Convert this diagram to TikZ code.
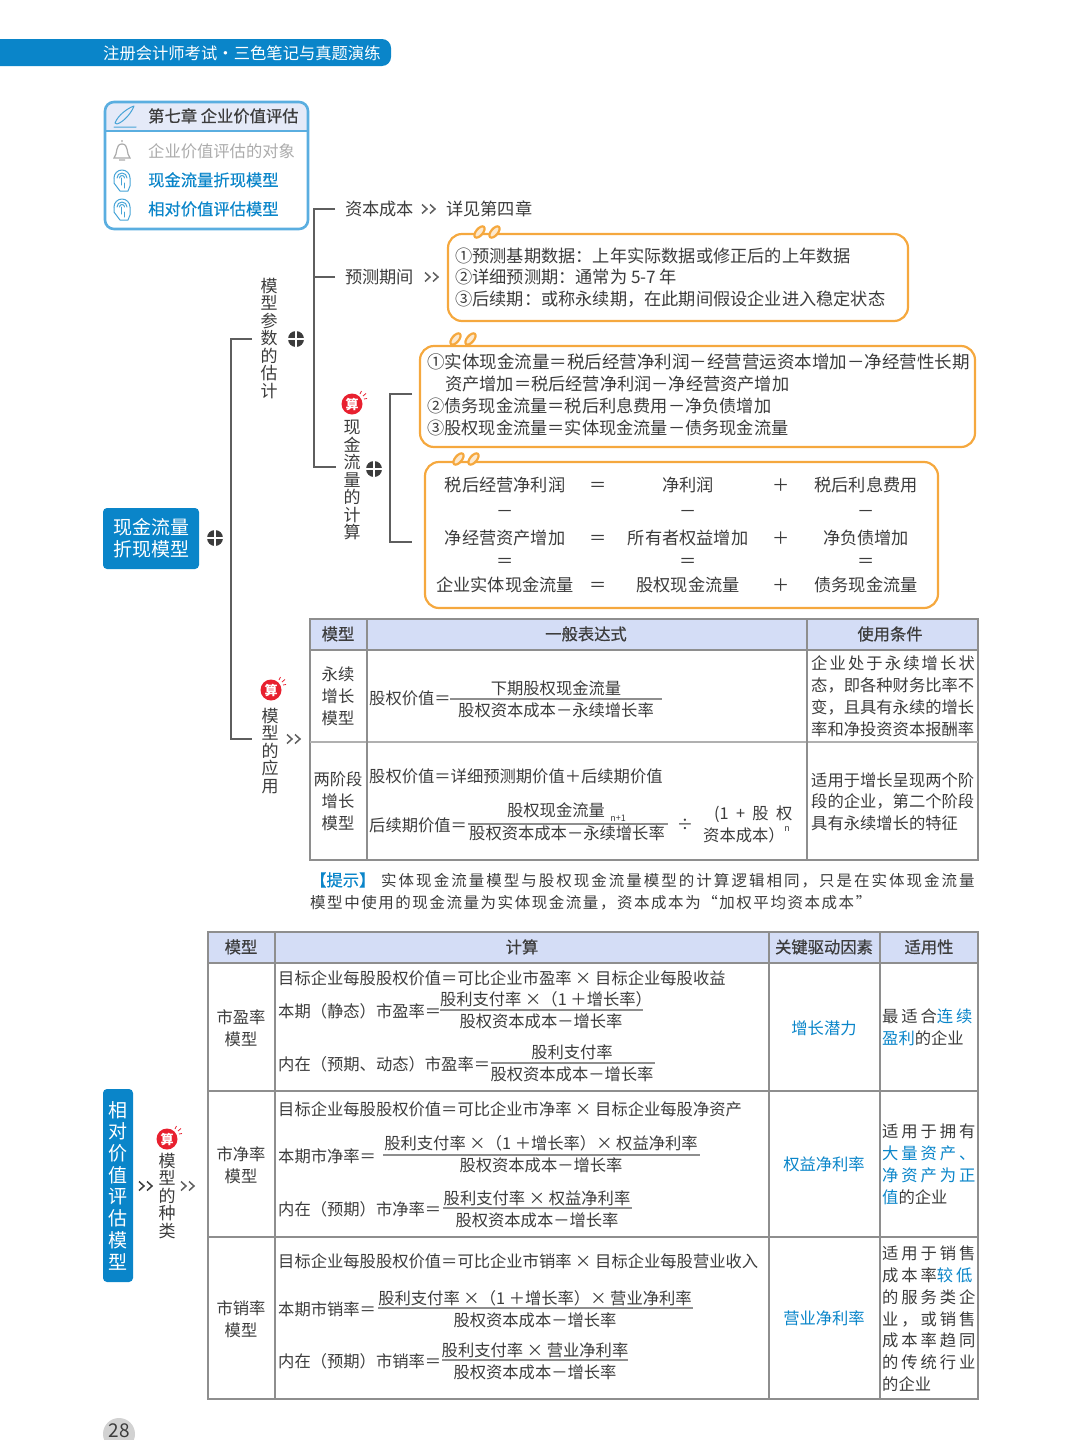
\documentclass[tikz,border=0pt]{standalone}
\usepackage{fontspec}
\setmainfont{Noto Sans CJK SC}
\newfontfamily\semiB[FakeBold=0.5]{Noto Sans CJK SC}
\newfontfamily\wideA[LetterSpace=13]{Noto Sans CJK SC}
\newfontfamily\wideB[LetterSpace=18]{Noto Sans CJK SC}
\newfontfamily\wideC[LetterSpace=13]{Noto Sans CJK SC}
\newfontfamily\wideD[LetterSpace=10]{Noto Sans CJK SC}
\definecolor{ink}{HTML}{3C3C3C}
\definecolor{brand}{HTML}{0A85C9}
\definecolor{tint}{HTML}{D4DDF6}
\definecolor{pale}{HTML}{E5EAF8}
\definecolor{rim}{HTML}{5AAEE0}
\definecolor{edge}{HTML}{8E8E8E}
\definecolor{amber}{HTML}{F5A83E}
\definecolor{limb}{HTML}{5E5E5E}
\definecolor{ruby}{HTML}{E8202F}
\definecolor{mute}{HTML}{ABABAB}
\tikzset{
  txt/.style={inner sep=0pt,anchor=west,text=ink,text height=14.3pt,text depth=2pt,font=\fontsize{16.3}{18}\selectfont},
  ctr/.style={txt,anchor=center},
  head/.style={ctr,font=\fontsize{16.3}{18}\semiB},
  semi/.style={txt,font=\fontsize{16.3}{18}\semiB},
  big/.style={txt,font=\fontsize{17.2}{19}\selectfont},
  bigc/.style={big,anchor=center},
  wider/.style={txt,font=\fontsize{17.5}{19}\selectfont},
  two/.style={inner sep=0pt,text=ink,align=center,font=\fontsize{16.3}{22}\selectfont},
  stack/.style={inner sep=0pt,anchor=north,text=ink,align=center,font=\fontsize{17}{17.5}\selectfont},
  drive/.style={ctr,text=brand},
  branch/.style={draw=limb,line width=1.8pt},
  rule/.style={draw=edge,line width=1.3pt},
  bar/.style={draw=edge,line width=1.1pt},
  notebox/.style={draw=amber,line width=2.2pt,rounded corners=14pt},
  clipline/.style={draw=amber,fill=amber!25,line width=2.2pt},
  icon/.style={draw=brand!75,line width=1pt,line cap=round,line join=round},
  chev/.pic={
    \foreach \d in {-7,1}{\draw[line width=1.5pt] (\d,-4.5)--(\d+5,0)--(\d,4.5);}
  },
  plusdot/.pic={
    \fill[ink] (0,0) circle[radius=8];
    \draw[white,line width=1.6pt] (-8,0)--(8,0) (0,-8)--(0,8);
  },
  clips/.pic={
    \foreach \d in {-7.5,7.5}{
      \draw[clipline,shift={(\d,0)},rotate=-40] (0,0) ellipse[x radius=3.4,y radius=6.8];
    }
  },
  badge/.pic={
    \fill[ruby] (0,0) circle[radius=10.5];
    \node[inner sep=0pt,text=white,font=\fontsize{13}{13}\selectfont\bfseries] (-t) at (0,0) {算};
    \draw[ruby,line width=0.8pt] (8,-10)--(9.5,-13) (11,-8)--(14,-10.5) (12,-5)--(15,-5.5);
  },
  touch/.pic={
    \draw[icon] (-8,-2) arc[start angle=180,end angle=360,radius=8];
    \draw[icon] (-5,-2) arc[start angle=180,end angle=360,radius=5];
    \draw[icon] (-2.5,-2) arc[start angle=180,end angle=360,radius=2.5];
    \draw[icon] (-8,-2) -- (-8,3) -- (-2,11) -- (6,11) -- (8,6) -- (8,-2);
    \draw[icon] (-1,-2) -- (-1,5) (2,3) -- (2,8);
  }
}
\begin{document}
\begin{tikzpicture}[x=1pt,y=-1pt]
\useasboundingbox (0,0) rectangle (1080,1440);
% top band
\fill[brand,rounded corners=9pt] (-20,39) rectangle (391,66);
\node[txt,text=white] (band) at (103,53) {注册会计师考试\hspace{-3.5pt} · \hspace{-3.5pt}三色笔记与真题演练};
% chapter card
\begin{scope}
\clip[rounded corners=9pt] (105,102) rectangle (308,229);
\fill[pale] (105,102) rectangle (308,131);
\end{scope}
\draw[rim,line width=2.6pt,rounded corners=9pt] (105,102) rectangle (308,229);
\draw[rim,line width=1.2pt] (105,131)--(308,131);
\draw[icon] (115,123) .. controls (118,115) and (128,108) .. (134,106) .. controls (132,112) and (124,122) .. (117,124) -- cycle (114,127)--(136,127);
\draw[mute,line width=1.2pt] (114,158) .. controls (118,154) and (115,144) .. (122,144) .. controls (129,144) and (126,154) .. (130,158) -- cycle (122,140)--(122,142) (119,160)--(125,160);
\pic at (122,180) {touch};
\pic at (122,209) {touch};
\node[semi] (chap) at (148,116) {第七章 企业价值评估};
\node[txt,text=mute] (secA) at (148,151) {企业价值评估的对象};
\node[txt,text=brand] (secB) at (148,180) {\semiB 现金流量折现模型};
\node[txt,text=brand] (secC) at (148,209) {\semiB 相对价值评估模型};
% first model, mind map
\node[fill=brand,rounded corners=4pt,minimum width=96pt,minimum height=61pt,inner sep=0pt,text=white,align=center,font=\fontsize{19}{22}\selectfont] (dcf) at (151,538.5) {现金流量\\折现模型};
\pic at (215,538) {plusdot};
\coordinate (armPar) at (252,339);
\coordinate (armUse) at (252,739);
\draw[branch] (armPar)--++(-21,0)|-(armUse);
\node[stack] (par) at (269,278) {模\\型\\参\\数\\的\\估\\计};
\pic at (296,339) {plusdot};
\coordinate (armCap) at (335,209);
\coordinate (armFor) at (335,277);
\coordinate (armCf) at (336,467);
\draw[branch] (armCap)--++(-21,0)|-(armCf);
\draw[branch] (armFor)--++(-21,0);
\node[big] (cap) at (345,209) {资本成本};
\pic[limb] at (429,209) {chev};
\node[big] (capR) at (446,209) {详见第四章};
\node[big] (for) at (345,277) {预测期间};
\pic[limb] at (432,277) {chev};
\draw[notebox] (448,234) rectangle (908,321);
\pic at (487,232) {clips};
\node[big] (forA) at (455,256) {①预测基期数据：上年实际数据或修正后的上年数据};
\node[big] (forB) at (455,277) {②详细预测期：通常为 5-7 年};
\node[big] (forC) at (455,299) {③后续期：或称永续期，在此期间假设企业进入稳定状态};
% cash flow calculation
\pic (bdgA) at (352,404) {badge};
\node[stack] (cf) at (352,420) {现\\金\\流\\量\\的\\计\\算};
\pic at (374,469) {plusdot};
\coordinate (armNote) at (412,394);
\coordinate (armGrid) at (412,542);
\draw[branch] (armNote)--++(-22,0)|-(armGrid);
\draw[notebox] (420,346) rectangle (975,447);
\pic at (463,339) {clips};
\node[wider] (cfA) at (427,362) {①实体现金流量＝税后经营净利润－经营营运资本增加－净经营性长期};
\node[big] (cfB) at (445,384) {资产增加＝税后经营净利润－净经营资产增加};
\node[big] (cfC) at (427,406) {②债务现金流量＝税后利息费用－净负债增加};
\node[big] (cfD) at (427,428) {③股权现金流量＝实体现金流量－债务现金流量};
\draw[notebox] (425,462) rectangle (938,608);
\pic at (466,459) {clips};
\node[bigc] (gA1) at (505,485) {税后经营净利润};
\node[bigc] (gA2) at (598,485) {＝};
\node[bigc] (gA3) at (688,485) {净利润};
\node[bigc] (gA4) at (781,485) {＋};
\node[bigc] (gA5) at (866,485) {税后利息费用};
\node[bigc] (gB1) at (505,511) {－};
\node[bigc] (gB3) at (688,511) {－};
\node[bigc] (gB5) at (866,511) {－};
\node[bigc] (gC1) at (505,538) {净经营资产增加};
\node[bigc] (gC2) at (598,538) {＝};
\node[bigc] (gC3) at (688,538) {所有者权益增加};
\node[bigc] (gC4) at (781,538) {＋};
\node[bigc] (gC5) at (866,538) {净负债增加};
\node[bigc] (gD1) at (505,561) {＝};
\node[bigc] (gD3) at (688,561) {＝};
\node[bigc] (gD5) at (866,561) {＝};
\node[bigc] (gE1) at (505,585) {企业实体现金流量};
\node[bigc] (gE2) at (598,585) {＝};
\node[bigc] (gE3) at (688,585) {股权现金流量};
\node[bigc] (gE4) at (781,585) {＋};
\node[bigc] (gE5) at (866,585) {债务现金流量};
% model use
\pic (bdgB) at (271,690) {badge};
\node[stack] (use) at (270,708) {模\\型\\的\\应\\用};
\pic[limb] at (294,739) {chev};
% first table
\fill[tint] (310,619) rectangle (978,650);
\draw[rule] (310,619) rectangle (978,860);
\draw[rule] (310,650)--(978,650);
\draw[rule,edge!70] (310,742)--(978,742);
\draw[rule] (367,619)--(367,860);
\draw[rule] (807,619)--(807,860);
\node[head] (hA) at (338,634) {模型};
\node[head] (hB) at (586,634) {一般表达式};
\node[head] (hC) at (890,634) {使用条件};
\node[two] (mA) at (338,696) {永续\\增长\\模型};
\node[two] (mB) at (338,801) {两阶段\\增长\\模型};
\node[txt] (eqA) at (369,698) {股权价值＝};
\draw[bar] (450,699)--(662,699);
\node[ctr] (eqAn) at (556,688) {下期股权现金流量};
\node[ctr] (eqAd) at (556,710) {股权资本成本－永续增长率};
\node[txt] (eqB) at (369,776) {股权价值＝详细预测期价值＋后续期价值};
\node[txt] (eqC) at (369,825) {后续期价值＝};
\draw[bar] (468,824)--(668,824);
\node[ctr] (eqCn) at (556,810) {股权现金流量};
\node[ctr] (eqCd) at (567,833) {股权资本成本－永续增长率};
\node[inner sep=0pt,text=ink,font=\fontsize{9}{9}\selectfont\itshape] (eqCs) at (618,818) {n+1};
\node[ctr] (eqCq) at (685,824) {÷};
\node[txt] (eqCa) at (714,813) {(1\ \ +\ \ 股\ \ 权};
\node[txt] (eqCb) at (703,835) {资本成本）};
\node[inner sep=0pt,text=ink,font=\fontsize{9}{9}\selectfont\itshape] (eqCt) at (787,829) {n};
\node[txt] (cA1) at (811,663) {{\wideA 企业处于永续增长状}};
\node[txt] (cA2) at (811,685) {态，即各种财务比率不};
\node[txt] (cA3) at (811,707) {变，且具有永续的增长};
\node[txt] (cA4) at (811,729) {率和净投资资本报酬率};
\node[txt] (cB1) at (811,780) {适用于增长呈现两个阶};
\node[txt] (cB2) at (811,801) {段的企业，第二个阶段};
\node[txt] (cB3) at (811,823) {具有永续增长的特征};
% hint
\node[semi,text=brand] (tipA) at (310,880) {【提示】};
\node[txt,font=\fontsize{15.5}{18}\selectfont] (tipB) at (381,880) {{\wideC 实体现金流量模型与股权现金流量模型的计算逻辑相同，只是在实体现金流量}};
\node[txt,font=\fontsize{15.5}{18}\selectfont] (tipC) at (310,902) {{\wideD 模型中使用的现金流量为实体现金流量，资本成本为“加权平均资本成本”}};
% relative valuation
\node[fill=brand,rounded corners=4pt,minimum width=30pt,minimum height=193pt,inner sep=0pt,text=white,align=center,font=\fontsize{19}{21.7}\selectfont] (rel) at (118,1185.5) {相\\对\\价\\值\\评\\估\\模\\型};
\pic[ink] at (146,1186) {chev};
\pic (bdgC) at (167,1139) {badge};
\node[stack] (kind) at (167,1153) {模\\型\\的\\种\\类};
\pic[limb] at (188,1186) {chev};
% second table
\fill[tint] (208,932) rectangle (978,963);
\draw[rule] (208,932) rectangle (978,1399);
\draw[rule] (208,963)--(978,963);
\draw[rule] (208,1091)--(978,1091);
\draw[rule] (208,1237)--(978,1237);
\draw[rule] (275,932)--(275,1399);
\draw[rule] (769,932)--(769,1399);
\draw[rule] (880,932)--(880,1399);
\node[head] (kA) at (241,947) {模型};
\node[head] (kB) at (522,947) {计算};
\node[head] (kC) at (824,947) {关键驱动因素};
\node[head] (kD) at (929,947) {适用性};
\node[two] (rA) at (241,1028) {市盈率\\模型};
\node[two] (rB) at (241,1165) {市净率\\模型};
\node[two] (rC) at (241,1319) {市销率\\模型};
\node[txt] (peA) at (278,978) {目标企业每股股权价值＝可比企业市盈率 × 目标企业每股收益};
\node[txt] (peB) at (278,1011) {本期（静态）市盈率＝};
\draw[bar] (440,1010)--(643,1010);
\node[ctr] (peBn) at (546,999) {股利支付率 ×（1 ＋增长率）};
\node[ctr] (peBd) at (541,1021) {股权资本成本－增长率};
\node[txt] (peC) at (278,1064) {内在（预期、动态）市盈率＝};
\draw[bar] (491,1063)--(655,1063);
\node[ctr] (peCn) at (572,1052) {股利支付率};
\node[ctr] (peCd) at (572,1074) {股权资本成本－增长率};
\node[txt] (pbA) at (278,1109) {目标企业每股股权价值＝可比企业市净率 × 目标企业每股净资产};
\node[txt] (pbB) at (278,1156) {本期市净率＝};
\draw[bar] (383,1155)--(700,1155);
\node[ctr] (pbBn) at (541,1143) {股利支付率 ×（1 ＋增长率）× 权益净利率};
\node[ctr] (pbBd) at (541,1165) {股权资本成本－增长率};
\node[txt] (pbC) at (278,1209) {内在（预期）市净率＝};
\draw[bar] (443,1208)--(632,1208);
\node[ctr] (pbCn) at (537,1198) {股利支付率 × 权益净利率};
\node[ctr] (pbCd) at (537,1220) {股权资本成本－增长率};
\node[txt] (psA) at (278,1261) {目标企业每股股权价值＝可比企业市销率 × 目标企业每股营业收入};
\node[txt] (psB) at (278,1309) {本期市销率＝};
\draw[bar] (378,1308)--(693,1308);
\node[ctr] (psBn) at (535,1298) {股利支付率 ×（1 ＋增长率）× 营业净利率};
\node[ctr] (psBd) at (535,1320) {股权资本成本－增长率};
\node[txt] (psC) at (278,1361) {内在（预期）市销率＝};
\draw[bar] (442,1360)--(628,1360);
\node[ctr] (psCn) at (535,1350) {股利支付率 × 营业净利率};
\node[ctr] (psCd) at (535,1372) {股权资本成本－增长率};
\node[drive] (dA) at (824,1028) {增长潜力};
\node[drive] (dB) at (824,1164) {权益净利率};
\node[drive] (dC) at (824,1318) {营业净利率};
\node[txt] (fA1) at (882,1016) {{\wideB 最适合\textcolor{brand}{连续}}};
\node[txt] (fA2) at (882,1038) {\textcolor{brand}{盈利}的企业};
\node[txt] (fB1) at (882,1131) {{\wideB 适用于拥有}};
\node[txt,text=brand] (fB2) at (882,1153) {{\wideB 大量资产、}};
\node[txt,text=brand] (fB3) at (882,1175) {{\wideB 净资产为正}};
\node[txt] (fB4) at (882,1197) {\textcolor{brand}{值}的企业};
\node[txt] (fC1) at (882,1253) {{\wideB 适用于销售}};
\node[txt] (fC2) at (882,1275) {{\wideB 成本率\textcolor{brand}{较低}}};
\node[txt] (fC3) at (882,1297) {{\wideB 的服务类企}};
\node[txt] (fC4) at (882,1319) {{\wideB 业，或销售}};
\node[txt] (fC5) at (882,1340) {{\wideB 成本率趋同}};
\node[txt] (fC6) at (882,1362) {{\wideB 的传统行业}};
\node[txt] (fC7) at (882,1384) {的企业};
% page number
\fill[gray!35] (119,1434) circle[radius=16];
\node[inner sep=0pt,text=ink,font=\fontsize{19}{19}\selectfont] (page) at (119,1430.5) {28};
\end{tikzpicture}
\end{document}
